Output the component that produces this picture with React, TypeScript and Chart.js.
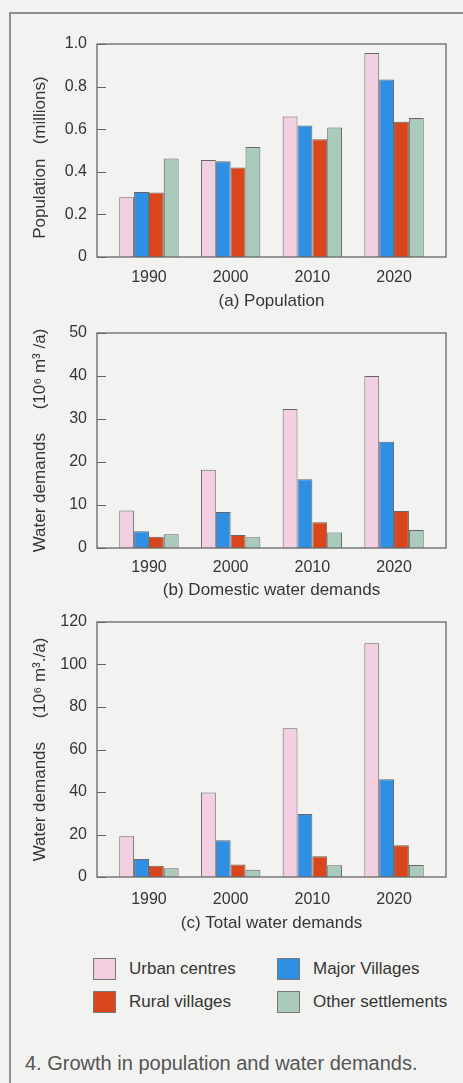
import React, { useEffect, useRef } from 'react';
import { Chart, registerables } from 'chart.js';
Chart.register(...registerables);

const FONT = '"Liberation Sans", Arial, Helvetica, sans-serif';
const TEXT = '#353535';
const EDGE = '#666666';

const years = ['1990', '2000', '2010', '2020'];
const seriesNames = ['Urban centres', 'Major Villages', 'Rural villages', 'Other settlements'];
const seriesColors = ['#f2d0e2', '#2e8fe3', '#da461c', '#aacbbb'];

const popUrban = [0.28, 0.455, 0.66, 0.958];
const popMajor = [0.305, 0.45, 0.617, 0.833];
const popRural = [0.303, 0.42, 0.553, 0.635];
const popOther = [0.462, 0.517, 0.608, 0.653];
const popTickLabels = ['0', '0.2', '0.4', '0.6', '0.8', '1.0'];

const domUrban = [8.7, 18.2, 32.3, 40.0];
const domMajor = [3.9, 8.4, 16.0, 24.7];
const domRural = [2.6, 3.0, 6.0, 8.6];
const domOther = [3.2, 2.5, 3.6, 4.2];
const domTickLabels = ['0', '10', '20', '30', '40', '50'];

const totUrban = [19.2, 39.8, 70.0, 110.0];
const totMajor = [8.5, 17.3, 29.6, 46.0];
const totRural = [5.3, 5.9, 9.8, 14.9];
const totOther = [4.1, 3.4, 5.5, 5.6];
const totTickLabels = ['0', '20', '40', '60', '80', '100', '120'];

const framePlugin = {
  id: 'frame',
  afterDraw(chart: any) {
    const { ctx, chartArea } = chart;
    const yScale = chart.scales.y;
    ctx.save();
    ctx.strokeStyle = EDGE;
    ctx.lineWidth = 1.2;
    ctx.beginPath();
    yScale.ticks.forEach((t: any) => {
      const py = Math.round(yScale.getPixelForValue(t.value)) + 0.5;
      ctx.moveTo(chartArea.left, py);
      ctx.lineTo(chartArea.left + 9, py);
    });
    ctx.stroke();
    ctx.lineWidth = 1.3;
    ctx.strokeRect(chartArea.left, chartArea.top, chartArea.right - chartArea.left, chartArea.bottom - chartArea.top);
    ctx.restore();
  },
};

type Panel = {
  series: number[][];
  yMax: number;
  step: number;
  labelEvery: number;
  tickLabels: string[];
  yTitle: string;
  xTitle: string;
  top: number;
  height: number;
  xHeight: number;
  xPad: number;
};

function makeConfig(p: Panel): any {
  return {
    type: 'bar',
    data: {
      datasets: p.series.map((vals, s) => ({
        label: seriesNames[s],
        data: vals.map((y, i) => ({ x: i, y })),
        backgroundColor: seriesColors[s],
        borderColor: EDGE,
        borderWidth: 1,
        categoryPercentage: 0.727,
        barPercentage: 1,
      })),
    },
    options: {
      responsive: false,
      animation: false,
      devicePixelRatio: 1,
      layout: { padding: { left: 30, right: 17, top: 12, bottom: 0 } },
      plugins: { legend: { display: false }, tooltip: { enabled: false } },
      scales: {
        x: {
          type: 'linear',
          offset: false,
          min: -0.636,
          max: years.length - 1 + 0.636,
          afterBuildTicks: (scale: any) => {
            scale.ticks = years.map((_, i) => ({ value: i }));
          },
          afterFit: (scale: any) => {
            scale.height = p.xHeight;
            scale.paddingLeft = 0;
            scale.paddingRight = 0;
          },
          grid: { display: false, drawTicks: false, offset: false },
          border: { display: false },
          ticks: {
            autoSkip: false,
            maxRotation: 0,
            padding: p.xPad,
            color: TEXT,
            font: { family: FONT, size: 16 },
            callback: (_v: any, i: number) => years[i],
          },
          title: {
            display: true,
            text: p.xTitle,
            color: TEXT,
            padding: 0,
            font: { family: FONT, size: 17 },
          },
        },
        y: {
          min: 0,
          max: p.yMax,
          afterFit: (scale: any) => {
            scale.width = 67;
            scale.paddingTop = 0;
            scale.paddingBottom = 0;
          },
          grid: { display: false, drawTicks: false },
          border: { display: false },
          ticks: {
            stepSize: p.step,
            padding: 10,
            color: TEXT,
            font: { family: FONT, size: 16 },
            callback: (_v: any, i: number) => (i % p.labelEvery === 0 ? p.tickLabels[i / p.labelEvery] : ''),
          },
          title: {
            display: true,
            text: p.yTitle,
            color: TEXT,
            padding: 0,
            font: { family: FONT, size: 17 },
          },
        },
      },
    },
    plugins: [framePlugin],
  };
}

const panels: Panel[] = [
  {
    series: [popUrban, popMajor, popRural, popOther],
    yMax: 1.0,
    step: 0.1,
    labelEvery: 2,
    tickLabels: popTickLabels,
    yTitle: 'Population   (millions)   ',
    xTitle: '(a) Population',
    top: 32,
    height: 280,
    xHeight: 55,
    xPad: 11,
  },
  {
    series: [domUrban, domMajor, domRural, domOther],
    yMax: 50,
    step: 10,
    labelEvery: 1,
    tickLabels: domTickLabels,
    yTitle: 'Water demands     (10\u2076 m\u00b3 /a)',
    xTitle: '(b) Domestic water demands',
    top: 321,
    height: 280,
    xHeight: 53,
    xPad: 10,
  },
  {
    series: [totUrban, totMajor, totRural, totOther],
    yMax: 120,
    step: 10,
    labelEvery: 2,
    tickLabels: totTickLabels,
    yTitle: 'Water demands     (10\u2076 m\u00b3./a)',
    xTitle: '(c) Total water demands',
    top: 610,
    height: 324,
    xHeight: 57,
    xPad: 13,
  },
];

function BarPanel({ panel }: { panel: Panel }) {
  const ref = useRef<HTMLCanvasElement | null>(null);
  useEffect(() => {
    if (!ref.current) return;
    const chart = new Chart(ref.current, makeConfig(panel));
    return () => chart.destroy();
  }, [panel]);
  return (
    <canvas
      ref={ref}
      width={463}
      height={panel.height}
      style={{ position: 'absolute', left: 0, top: panel.top, width: 463, height: panel.height }}
    />
  );
}

const legendCols = [93, 277];
const legendRows = [969, 1002];

export default function App() {
  return (
    <div
      style={{
        position: 'absolute',
        left: 0,
        top: 0,
        width: 463,
        height: 1083,
        background: '#f2f2f0',
        overflow: 'hidden',
        fontFamily: FONT,
      }}
    >
      <div
        style={{
          position: 'absolute',
          left: 9,
          top: 12,
          width: 470,
          height: 1100,
          borderTop: '2px solid #8e8e8e',
          borderLeft: '2px solid #8e8e8e',
        }}
      />
      {panels.map((p, i) => (
        <BarPanel key={i} panel={p} />
      ))}
      {seriesNames.map((name, i) => {
        const col = i === 0 || i === 2 ? 0 : 1;
        const row = i < 2 ? 0 : 1;
        return (
          <div key={name}>
            <div
              style={{
                position: 'absolute',
                left: legendCols[col],
                top: legendRows[row] - 11,
                width: 21,
                height: 20,
                background: seriesColors[i],
                border: '1px solid #777',
              }}
            />
            <div
              style={{
                position: 'absolute',
                left: legendCols[col] + 36,
                top: legendRows[row] - 11,
                height: 22,
                lineHeight: '22px',
                fontSize: 17,
                color: TEXT,
                whiteSpace: 'nowrap',
              }}
            >
              {name}
            </div>
          </div>
        );
      })}
      <div
        style={{
          position: 'absolute',
          left: 25,
          top: 1050,
          height: 26,
          lineHeight: '26px',
          fontSize: 20,
          color: '#555',
          whiteSpace: 'nowrap',
        }}
      >
        4. Growth in population and water demands.
      </div>
    </div>
  );
}
